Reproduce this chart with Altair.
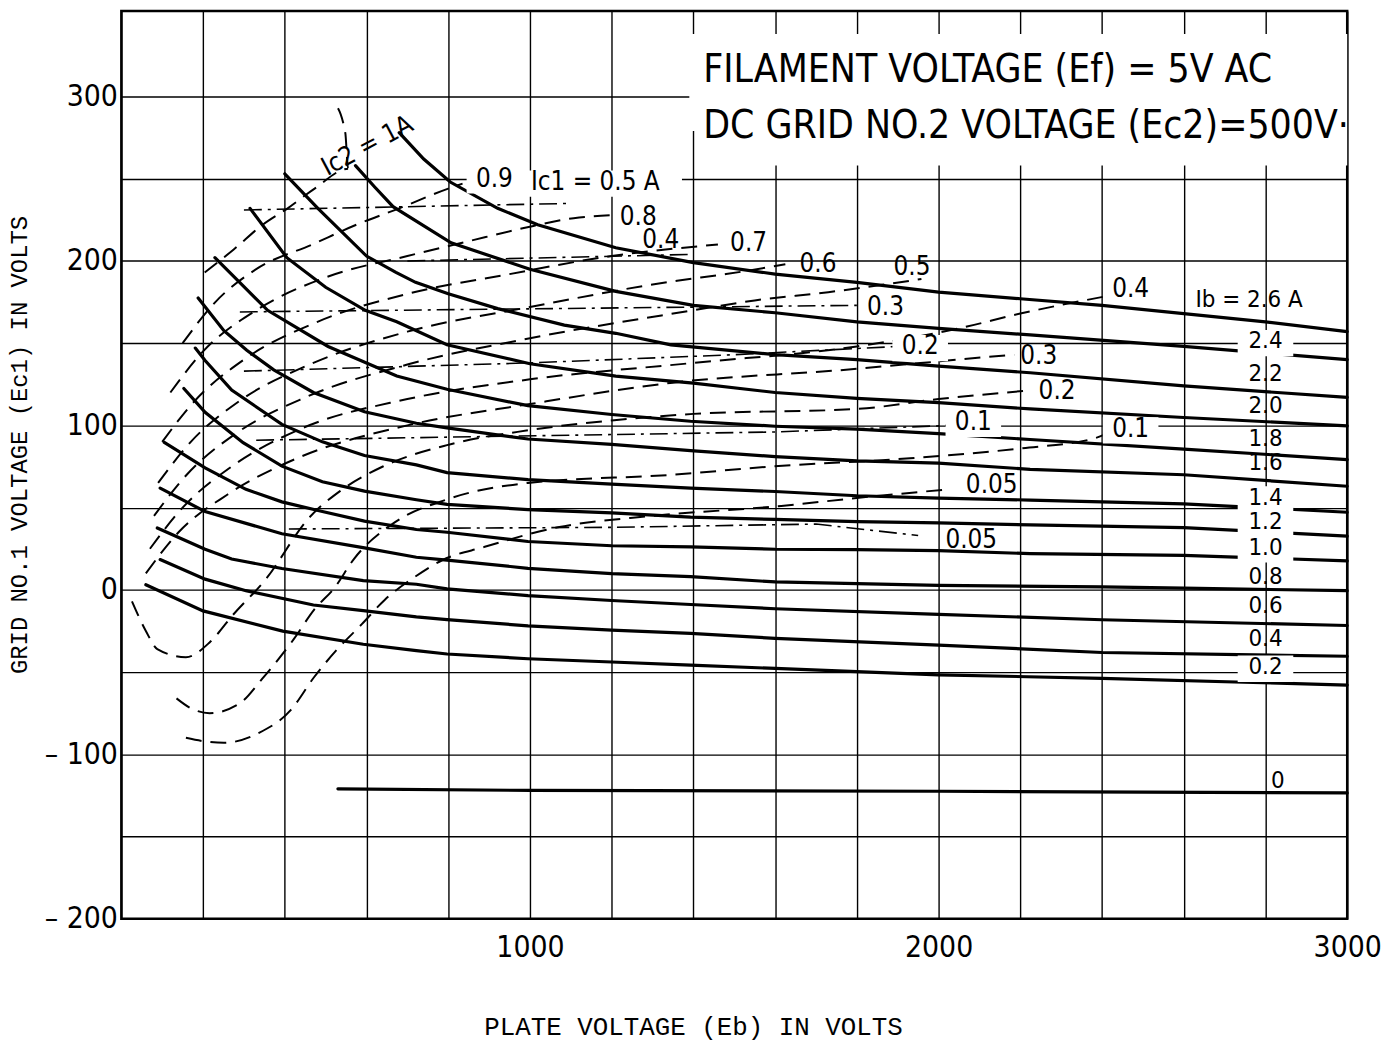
import altair as alt
import pandas as pd

FONT = "DejaVu Sans Condensed, Liberation Sans Narrow, DejaVu Sans, sans-serif"
MONO = "Liberation Mono, DejaVu Sans Mono, monospace"

# ---------------- Plate current (Ib) curves : x = plate volts, y = grid-1 volts -------------
ib_names = ["2.6", "2.4", "2.2", "2.0", "1.8", "1.6", "1.4", "1.2", "1.0", "0.8", "0.6", "0.4", "0.2", "0"]
ib_26_x = [680, 740, 805, 921, 1019, 1210, 1400, 1600, 1800, 2000, 2200, 2400, 2600, 2800, 3000]
ib_26_y = [278, 262, 248, 232, 222, 208, 199, 192, 187, 181, 177, 173, 168, 163, 157]
ib_24_x = [573, 620, 665, 807, 1000, 1210, 1400, 1600, 1800, 2000, 2224, 2600, 3000]
ib_24_y = [258, 245, 233, 211, 195, 181.5, 173, 168.5, 163, 159, 155, 148, 140]
ib_22_x = [400, 481, 600, 672, 720, 800, 921, 1084, 1210, 1345, 1600, 1800, 2000, 2224, 2600, 3000]
ib_22_y = [253, 232, 203, 193, 187, 180, 171, 161, 156, 149, 143, 140, 136, 132, 124, 117]
ib_20_x = [315, 405, 500, 597, 674, 797, 1000, 1210, 1400, 1600, 1800, 2000, 2224, 2600, 3000]
ib_20_y = [232, 202, 184, 170, 163, 149, 137.5, 130, 125.7, 120, 116.4, 113.8, 110, 104.8, 99.7]
ib_18_x = [229, 358, 506, 674, 797, 995, 1200, 1393, 1600, 1800, 2000, 2224, 2600, 3000]
ib_18_y = [202, 170, 148, 130, 122, 112, 106.6, 102.5, 99.5, 97.7, 95, 91.4, 85.6, 79.2]
ib_16_x = [188, 251, 307, 373, 470, 595, 722, 797, 995, 1200, 1393, 1600, 1800, 2000, 2224, 2600, 3000]
ib_16_y = [177.5, 157.6, 145.7, 133.8, 120, 108.3, 101.3, 98.5, 91.7, 88.5, 84.7, 81, 78.4, 77, 73.3, 70, 63]
ib_14_x = [181, 205, 270, 393, 492, 595, 722, 797, 995, 1200, 1393, 1600, 1800, 2000, 2224, 2600, 3000]
ib_14_y = [147, 139.5, 121.5, 100.6, 90, 81.7, 76, 71.3, 67, 64.3, 61.8, 59.8, 57.2, 55.8, 54.6, 52.3, 47.2]
ib_12_x = [153, 205, 298, 393, 492, 595, 722, 797, 995, 1200, 1393, 1600, 1800, 2000, 2224, 2600, 3000]
ib_12_y = [122.4, 108, 89.5, 75.2, 65.7, 60, 54.8, 52, 48.8, 46.8, 44.2, 42.8, 41.5, 40.7, 39.5, 37.8, 32.7]
ib_10_x = [105, 205, 305, 393, 492, 595, 722, 797, 995, 1200, 1393, 1600, 1800, 2000, 2224, 2600, 3000]
ib_10_y = [89.7, 74.2, 61.1, 53.5, 47.6, 41.8, 36.7, 35, 29.4, 26.8, 26.1, 24.7, 24.5, 23.8, 22, 21, 17.6]
ib_08_x = [95, 205, 393, 595, 722, 797, 995, 1200, 1393, 1600, 2000, 2400, 2600, 3000]
ib_08_y = [61.9, 47.6, 34.1, 25.5, 19.8, 18.1, 13.1, 9.9, 8, 4.8, 2.7, 1.8, 1.0, -0.5]
ib_06_x = [88, 205, 270, 393, 592, 722, 797, 995, 1200, 1393, 1600, 2000, 2400, 3000]
ib_06_y = [37.6, 24.7, 18.7, 13, 5.6, 3.4, 0.6, -3.5, -6.5, -8.9, -11.5, -14.9, -18.2, -21.7]
ib_04_x = [95, 205, 305, 470, 592, 722, 797, 995, 1200, 1393, 1600, 2000, 2400, 3000]
ib_04_y = [18.4, 6.5, -0.5, -9.2, -12.6, -16.4, -18.1, -21.9, -24.5, -26.5, -29.5, -33.6, -38.1, -40.4]
ib_02_x = [60, 200, 395, 592, 722, 797, 995, 1200, 1393, 1600, 2000, 2400, 3000]
ib_02_y = [3.1, -12.8, -25.1, -33.1, -37, -39, -41.9, -43.9, -45.8, -47.8, -51.7, -53.8, -57.9]
ib_00_x = [530, 1000, 2000, 3000]
ib_00_y = [-121, -122, -122.5, -123.5]

# ---------------- Screen-grid current (Ic2) contours (dashed) ----------------
ic2_names = ["1", "0.9", "0.8", "0.7", "0.6", "0.5", "0.4", "0.3", "0.2", "0.1", "0.05"]
ic2_10_x = [204, 275, 346, 407, 473, 555, 548, 522]
ic2_10_y = [193, 207, 222, 232, 244, 256, 278, 296]
ic2_09_x = [150, 230, 330, 467, 575, 680, 800, 835]
ic2_09_y = [150, 175, 195, 210, 222, 232, 244, 247]
ic2_08_x = [120, 200, 330, 500, 700, 850, 985, 1107, 1210]
ic2_08_y = [120, 145, 170, 190, 203, 212, 220, 226, 228]
ic2_07_x = [100, 180, 300, 480, 700, 950, 1200, 1460]
ic2_07_y = [90, 115, 140, 163, 180, 192, 203, 210]
ic2_06_x = [90, 170, 290, 470, 700, 1000, 1360, 1480, 1625]
ic2_06_y = [65, 90, 115, 138, 157, 172, 188, 192, 198]
ic2_05_x = [80, 160, 280, 450, 700, 1000, 1400, 1550, 1730, 1958]
ic2_05_y = [45, 70, 95, 117, 137, 153, 170, 176, 181, 189]
ic2_04_x = [70, 150, 270, 440, 700, 1000, 1400, 1800, 2050, 2200, 2420]
ic2_04_y = [25, 50, 75, 98, 116, 128, 138, 148, 159, 168, 179]
ic2_03_x = [60, 140, 260, 430, 700, 1000, 1350, 1780, 2000, 2185]
ic2_03_y = [10, 35, 58, 80, 100, 113, 126, 134, 139, 143]
ic2_02_x = [26, 60, 88, 158, 216, 274, 352, 460, 535, 640, 797, 995, 1200, 1400, 1800, 2000, 2210]
ic2_02_y = [-7, -25, -36, -41, -32, -15, 6, 44, 60, 75, 88, 97, 103, 107, 110, 116, 121]
ic2_01_x = [135, 170, 216, 290, 345, 422, 472, 521, 570, 669, 797, 995, 1350, 1590, 1930, 2200, 2380, 2420]
ic2_01_y = [-66, -72, -75, -69, -54, -30, -12, 1, 19, 41, 55, 65, 70, 75, 80, 86, 92, 96]
ic2_005_x = [158, 200, 251, 337, 415, 472, 529, 588, 645, 719, 785, 887, 1068, 1300, 1615, 1805, 2020]
ic2_005_y = [-90, -92, -93, -87, -73, -53, -36, -21, -6, 8, 18, 26, 38, 45, 51, 56, 61]

# ---------------- Control-grid current (Ic1) contours (dash-dot) ----------------
ic1_names = ["0.5", "0.4", "0.3", "0.2", "0.1", "0.05"]
ic1_05_x = [300, 1100]
ic1_05_y = [231, 235]
ic1_04_x = [700, 1400]
ic1_04_y = [200, 204]
ic1_03_x = [290, 1800]
ic1_03_y = [169, 173]
ic1_02_x = [300, 1000, 1500, 1900]
ic1_02_y = [133, 138, 143, 148]
ic1_01_x = [330, 1600, 2030]
ic1_01_y = [91, 96, 100]
ic1_005_x = [410, 1200, 1700, 1950]
ic1_005_y = [37, 38, 40, 33]

# ---------------- Labels ----------------
right_text = ["Ib = 2.6 A", "2.4", "2.2", "2.0", "1.8", "1.6", "1.4", "1.2", "1.0", "0.8", "0.6", "0.4", "0.2", "0"]
right_x = [2760, 2800, 2800, 2800, 2800, 2800, 2800, 2800, 2800, 2800, 2800, 2800, 2800, 2830]
right_y = [176, 151, 131, 112, 92, 77, 56, 41, 25.6, 8, -10, -30, -47, -116]
right_gap = [False, True, False, False, False, False, True, True, True, False, False, False, True, False]

mid_text = ["0.9", "Ic1 = 0.5 A", "0.8", "0.4", "0.7", "0.6", "0.5", "0.4", "0.3", "0.2",
            "0.3", "0.2", "0.1", "0.1", "0.05", "0.05"]
mid_x = [913, 1160, 1265, 1320, 1535, 1705, 1935, 2470, 1870, 1955, 2245, 2290, 2085, 2470, 2130, 2080]
mid_y = [250, 248, 227, 213, 211, 198, 196, 183, 172, 148, 142, 121, 102, 98, 64, 30]
mid_gap = [True, True, False, False, False, False, False, False, False, True,
           False, False, True, True, False, False]

ic2_title = "Ic2 = 1A"
ic2_title_x = [602]
ic2_title_y = [270]

note_lines = ["FILAMENT VOLTAGE (Ef) = 5V  AC", "DC GRID NO.2 VOLTAGE (Ec2)=500V·"]
note_x = [1424, 1424]
note_y = [316, 282]

# annotation box (plate volts / grid volts) where the grid is blanked
box_x = [1408, 1390]
box_x2 = [3000, 1410]
box_y = [258, 279]
box_y2 = [338, 338]

x_ticks = list(range(0, 3001, 200))
y_ticks = list(range(-200, 301, 50))


def curves(names, xs, ys):
    rows = []
    for n, cx, cy in zip(names, xs, ys):
        for i, (a, b) in enumerate(zip(cx, cy)):
            rows.append({"curve": n, "i": i, "x": a, "y": b})
    return pd.DataFrame(rows)


ib_df = curves(ib_names,
               [ib_26_x, ib_24_x, ib_22_x, ib_20_x, ib_18_x, ib_16_x, ib_14_x, ib_12_x, ib_10_x,
                ib_08_x, ib_06_x, ib_04_x, ib_02_x, ib_00_x],
               [ib_26_y, ib_24_y, ib_22_y, ib_20_y, ib_18_y, ib_16_y, ib_14_y, ib_12_y, ib_10_y,
                ib_08_y, ib_06_y, ib_04_y, ib_02_y, ib_00_y])
ic2_df = curves(ic2_names,
                [ic2_10_x, ic2_09_x, ic2_08_x, ic2_07_x, ic2_06_x, ic2_05_x, ic2_04_x, ic2_03_x,
                 ic2_02_x, ic2_01_x, ic2_005_x],
                [ic2_10_y, ic2_09_y, ic2_08_y, ic2_07_y, ic2_06_y, ic2_05_y, ic2_04_y, ic2_03_y,
                 ic2_02_y, ic2_01_y, ic2_005_y])
ic1_df = curves(ic1_names,
                [ic1_05_x, ic1_04_x, ic1_03_x, ic1_02_x, ic1_01_x, ic1_005_x],
                [ic1_05_y, ic1_04_y, ic1_03_y, ic1_02_y, ic1_01_y, ic1_005_y])

right_df = pd.DataFrame({"text": right_text, "x": right_x, "y": right_y, "gap": right_gap})
mid_df = pd.DataFrame({"text": mid_text, "x": mid_x, "y": mid_y, "gap": mid_gap})
lab_all = pd.concat([right_df, mid_df], ignore_index=True)
gap_df = lab_all[lab_all["gap"]].copy()
gap_df["x2"] = gap_df["x"] + 18 * gap_df["text"].str.len() + 14
gap_df["x"] = gap_df["x"] - 18 * gap_df["text"].str.len() - 14
gap_df["y2"] = gap_df["y"] + 7
gap_df["y"] = gap_df["y"] - 9

box_df = pd.DataFrame({"x": box_x, "x2": box_x2, "y": box_y, "y2": box_y2})
note_df = pd.DataFrame({"text": note_lines, "x": note_x, "y": note_y})
ic2t_df = pd.DataFrame({"text": [ic2_title], "x": ic2_title_x, "y": ic2_title_y})

xscale = alt.Scale(domain=[0, 3000], nice=False, zero=False)
yscale = alt.Scale(domain=[-200, 352], nice=False, zero=False)

xaxis = alt.Axis(values=x_ticks, grid=True, gridColor="black", gridWidth=1.4, gridOpacity=1,
                 ticks=False, domain=False, labelOverlap=False, labelFlush=False,
                 labelExpr="datum.value % 1000 === 0 && datum.value > 0 ? '' + datum.value : ''",
                 labelFont=FONT, labelFontSize=30, labelColor="black", labelPadding=14,
                 title="PLATE VOLTAGE (Eb) IN VOLTS", titleFont=MONO, titleFontSize=26,
                 titleFontWeight="normal", titleColor="black", titleX=575, titleY=108,
                 titleBaseline="middle")
yaxis = alt.Axis(values=y_ticks, grid=True, gridColor="black", gridWidth=1.4, gridOpacity=1,
                 ticks=False, domain=False, labelOverlap=False, labelFlush=False,
                 labelExpr="datum.value % 100 === 0 ? (datum.value < 0 ? '\u2013 ' + (-datum.value) : '' + datum.value) : ''",
                 labelFont=FONT, labelFontSize=30, labelColor="black", labelPadding=4,
                 title="GRID NO.1 VOLTAGE (Ec1) IN VOLTS", titleFont=MONO, titleFontSize=24,
                 titleFontWeight="normal", titleColor="black", titleX=-102, titleY=436,
                 titleBaseline="middle", titleAngle=270)

X = alt.X("x:Q", scale=xscale, axis=xaxis)
Y = alt.Y("y:Q", scale=yscale, axis=yaxis)

box = alt.Chart(box_df).mark_rect(color="white").encode(x=X, x2="x2:Q", y=Y, y2="y2:Q")

ib = alt.Chart(ib_df).mark_line(color="black", strokeWidth=3.2, strokeCap="round").encode(
    x=X, y=Y, detail="curve:N", order="i:Q")
ic2 = alt.Chart(ic2_df).mark_line(color="black", strokeWidth=2, strokeDash=[16, 9],
                                  interpolate="monotone").encode(
    x=X, y=Y, detail="curve:N", order="i:Q")
ic1 = alt.Chart(ic1_df).mark_line(color="black", strokeWidth=1.6, strokeDash=[18, 6, 3, 6]).encode(
    x=X, y=Y, detail="curve:N", order="i:Q")

gaps = alt.Chart(gap_df).mark_rect(color="white").encode(x=X, x2="x2:Q", y=Y, y2="y2:Q")

right_labels = alt.Chart(right_df).mark_text(font=FONT, fontSize=24, color="black", align="center",
                                             baseline="middle").encode(x=X, y=Y, text="text:N")
mid_labels = alt.Chart(mid_df).mark_text(font=FONT, fontSize=26, color="black", align="center",
                                         baseline="middle").encode(x=X, y=Y, text="text:N")
ic2t = alt.Chart(ic2t_df).mark_text(font=FONT, fontSize=26, color="black", align="center",
                                    baseline="middle", angle=332).encode(x=X, y=Y, text="text:N")
notes = alt.Chart(note_df).mark_text(font=FONT, fontSize=39, color="black", align="left",
                                     baseline="middle").encode(x=X, y=Y, text="text:N")

chart = alt.layer(box, ib, ic2, ic1, gaps, right_labels, mid_labels, ic2t, notes).properties(
    width=1233, height=913,
    padding={"left": 114, "top": 0, "right": 36, "bottom": 124},
    autosize=alt.AutoSizeParams(type="none"),
    background="white",
).configure_view(stroke="black", strokeWidth=2.5)

chart.save("out.html", embed_options={"renderer": "svg", "actions": False})
